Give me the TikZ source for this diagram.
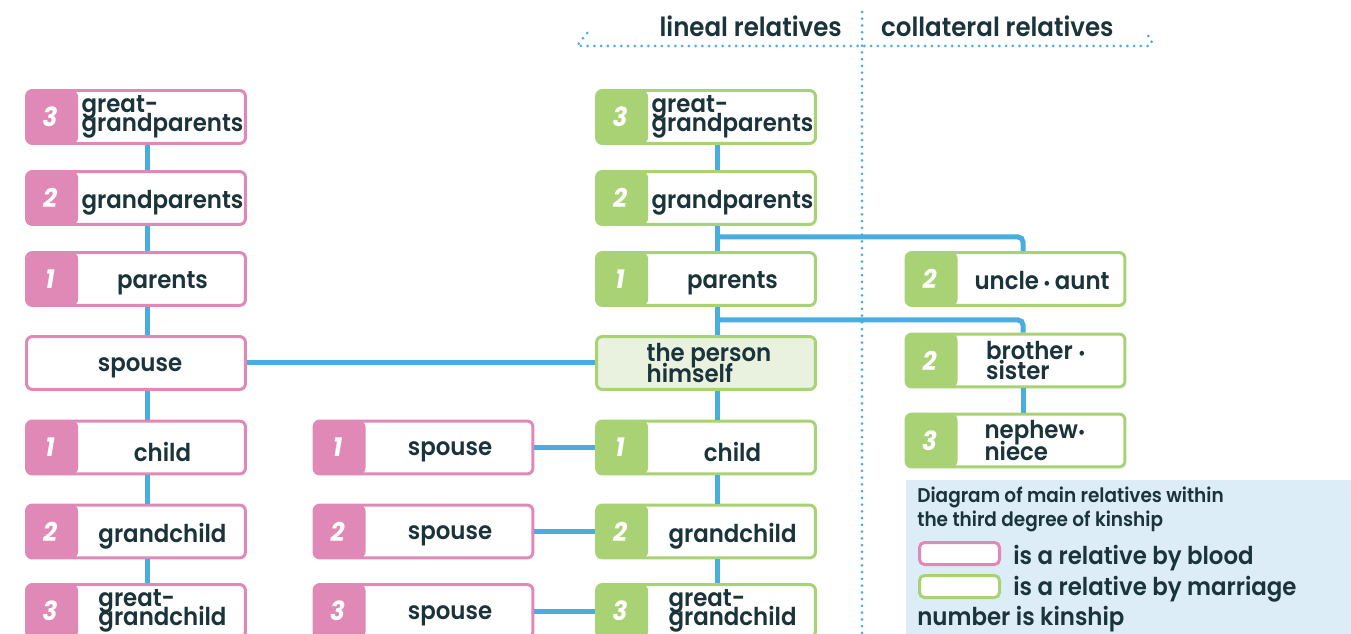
\documentclass[tikz,border=0pt]{standalone}
\usepackage{fontspec}
\setmainfont{Poppins}[FakeStretch=0.93, UprightFont=* Medium, BoldFont=* SemiBold, ItalicFont=* Medium Italic, BoldItalicFont=* Bold Italic]
\usetikzlibrary{positioning}
\setlength{\lineskiplimit}{-20pt}
\definecolor{kpink}{HTML}{E088B6}
\definecolor{kgreen}{HTML}{A8D273}
\definecolor{kself}{HTML}{E9F2DF}
\definecolor{kblue}{HTML}{4AADE0}
\definecolor{klegend}{HTML}{DCEDF7}
\definecolor{ktext}{HTML}{1B333A}
\tikzset{
	box/.style = {rectangle,
			draw,
			fill = white,
			rounded corners = 0.12cm,
			line width = 0.06cm,
			minimum width = 4.38cm,
			minimum height = 1.06cm},
	blood/.style = {box, draw = kpink,
			path picture = {\fill[kpink] (path picture bounding box.south west) rectangle ([xshift=1.03cm]path picture bounding box.north west);}},
	marriage/.style = {box, draw = kgreen,
			path picture = {\fill[kgreen] (path picture bounding box.south west) rectangle ([xshift=1.03cm]path picture bounding box.north west);}},
	degree/.style = {text = white, font = \fontsize{15}{15}\selectfont\bfseries\itshape},
	kin/.style = {text = ktext, align = left, font = \fontsize{14}{10.5}\selectfont\bfseries},
	link/.style = {draw = kblue, line width = 0.1cm},
	dots/.style = {draw = kblue, line width = 0.06cm, line cap = round, dash pattern = on 0pt off 0.135cm},
	legbox/.style = {rectangle, draw, fill = white, rounded corners = 0.1cm, line width = 0.06cm,
			minimum width = 1.6cm, minimum height = 0.44cm},
	legend/.style = {text = ktext, inner sep = 0pt, font = \fontsize{14}{14}\selectfont\bfseries}
}
% [label shift], style, name, position, degree, text
\newcommand{\kinbox}[6][yshift=-0.09cm]{%
	\node [#2] (#3) at (#4) {};
	\node [degree] (#3-d) at ([xshift=0.5cm]#3.west) {#5};
	\node [kin] (#3-t) at ([xshift=0.53cm,#1]#3.center) {#6};
}
\newcommand{\kdot}{\scalebox{0.7}{•}}

\begin{document}
\begin{tikzpicture}[x = 0.02cm, y = -0.02cm]
	\fill[white] (0,0) rectangle (1351,634);
	\clip (0,0) rectangle (1351,634);
	% blood relatives
	\kinbox[yshift=0cm]{blood}{lg3}{136,117}{3}{great-\\grandparents}
	\kinbox{blood}{lg2}{136,198}{2}{grandparents}
	\kinbox{blood}{lg1}{136,279}{1}{parents}
	\node [box, draw = kpink] (lsp) at (136,363) {};
	\node [kin] (lsp-t) at ([xshift=0.08cm,yshift=-0.09cm]lsp.center) {spouse};
	\kinbox{blood}{lc1}{136,447.5}{1}{child}
	\kinbox{blood}{lc2}{136,531.5}{2}{grandchild}
	\kinbox[yshift=0cm]{blood}{lc3}{136,611}{3}{great-\\grandchild}
	\kinbox{blood}{sp1}{423.5,447.5}{1}{spouse}
	\kinbox{blood}{sp2}{423.5,531.5}{2}{spouse}
	\kinbox{blood}{sp3}{423.5,611}{3}{spouse}
	% relatives by marriage
	\kinbox[yshift=0cm]{marriage}{cg3}{706,117}{3}{great-\\grandparents}
	\kinbox{marriage}{cg2}{706,198}{2}{grandparents}
	\kinbox{marriage}{cg1}{706,279}{1}{parents}
	\node [box, draw = kgreen, fill = kself] (me) at (706,363) {};
	\node [kin] (me-t) at ([xshift=0.06cm]me.center) {the person\\[2pt]himself};
	\kinbox{marriage}{cc1}{706,447.5}{1}{child}
	\kinbox{marriage}{cc2}{706,531.5}{2}{grandchild}
	\kinbox[yshift=0cm]{marriage}{cc3}{706,611}{3}{great-\\grandchild}
	\kinbox[yshift=-0.03cm]{marriage}{ua}{1015.5,279}{2}{uncle\,\kdot\,aunt}
	\kinbox[xshift=-0.12cm]{marriage}{bs}{1015.5,360.5}{2}{brother \kdot\\[1pt]sister}
	\kinbox[xshift=-0.14cm]{marriage}{nn}{1015.5,440.5}{3}{nephew\kdot\\[2pt]niece}
	% connectors
	\foreach \a/\b in {lg3/lg2, lg2/lg1, lg1/lsp, lsp/lc1, lc1/lc2, lc2/lc3,
			cg3/cg2, cg2/cg1, cg1/me, me/cc1, cc1/cc2, cc2/cc3}
		\draw [link] ([xshift=0.22cm]\a.south) -- ([xshift=0.22cm]\b.north);
	\draw [link] ([xshift=0.15cm]bs.south) -- ([xshift=0.15cm]nn.north);
	\draw [link, rounded corners=0.1cm] ([xshift=0.22cm,yshift=-0.22cm]cg2.south) -| ([xshift=0.15cm]ua.north);
	\draw [link, rounded corners=0.1cm] ([xshift=0.22cm,yshift=-0.26cm]cg1.south) -| ([xshift=0.15cm]bs.north);
	\draw [link] (lsp.east) -- (me.west);
	\foreach \a/\b in {sp1/cc1, sp2/cc2, sp3/cc3}
		\draw [link] (\a.east) -- (\b.west);
	% headings
	\node [kin, anchor = base east, font = \fontsize{15}{15}\selectfont\bfseries] (lineal) at (848,37) {lineal relatives};
	\node [kin, anchor = base west, font = \fontsize{15}{15}\selectfont\bfseries] (collateral) at (875,37) {collateral relatives};
	\draw [dots] (587,33) -- (577,46) -- (1148,46) .. controls (1155,45) and (1152,38) .. (1144,32);
	\draw [dots] (862,12) -- (862,640);
	% legend
	\fill [klegend] (906,480) rectangle (1360,640);
	\node [legend, anchor = north west, align = left, font = \fontsize{11.3}{13.5}\selectfont\bfseries] (legtitle) at (917,487) {Diagram of main relatives within\\the third degree of kinship};
	\node [legbox, draw = kpink] (kblood) at (959.5,553.5) {};
	\node [legbox, draw = kgreen] (kmarriage) at (959.5,586.5) {};
	\node [legend, anchor = base west] (tblood) at (1013,564) {is a relative by blood};
	\node [legend, anchor = base west] (tmarriage) at (1013,595) {is a relative by marriage};
	\node [legend, anchor = base west] (tdegree) at (917,625) {number is kinship};
\end{tikzpicture}
\end{document}
